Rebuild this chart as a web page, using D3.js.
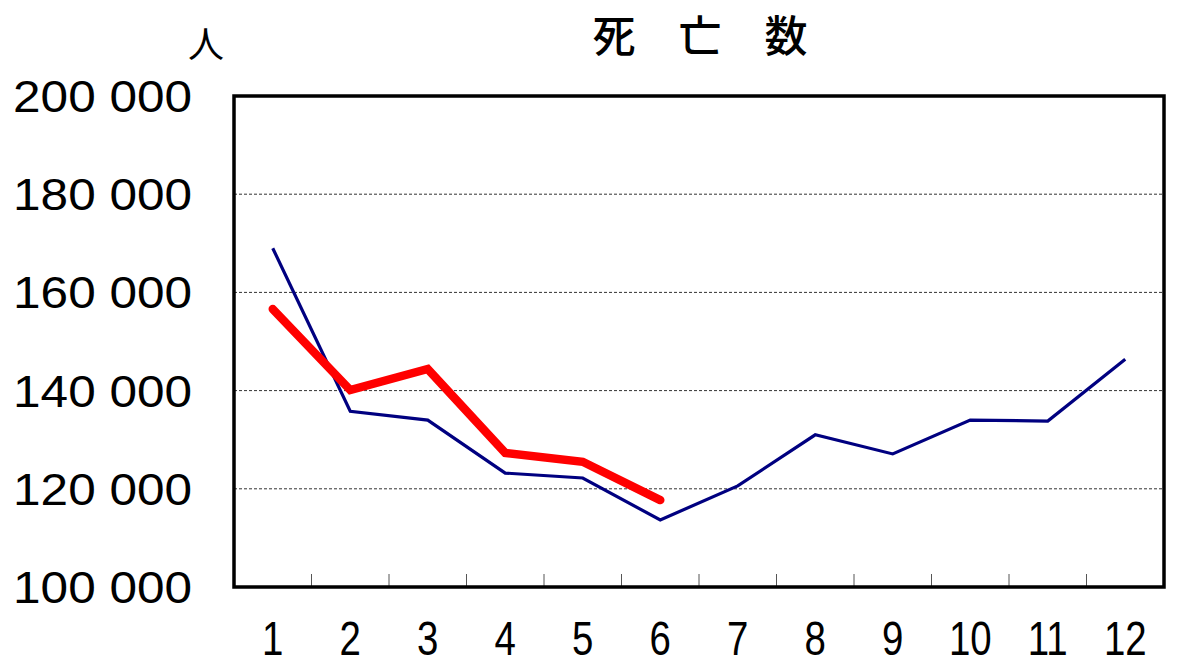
<!DOCTYPE html>
<html>
<head>
<meta charset="UTF-8">
<title>死亡数</title>
<script src="https://d3js.org/d3.v7.min.js"></script>
<style>
body { margin: 0; background: #fff; }
</style>
</head>
<body>
<figure class=chart style="margin:0"></figure>
<script type="text/javascript">

/* Data */
var months = ['1', '2', '3', '4', '5', '6', '7', '8', '9', '10', '11', '12'];
var prevYear = [169000, 135800, 134000, 123200, 122200, 113650, 120600, 131000, 127100, 134000, 133800, 146400];
var thisYear = [156600, 140100, 144400, 127300, 125500, 117700];
var yTicks = [100000, 120000, 140000, 160000, 180000, 200000];
var title = '死　亡　数';
var unit = '人';

/* Global variables */
var W = 1200, H = 666;
var plotL = 234, plotR = 1164, plotT = 96, plotB = 587;

var x = d3.scaleBand().domain(months).range([plotL, plotR]);
var y = d3.scaleLinear().domain([100000, 200000]).range([plotB, plotT]);

var svg = d3.select('figure').append('svg')
	.attr('width', W)
	.attr('height', H);

/* Gridlines */
svg.selectAll('line.grid')
	.data(yTicks.slice(1, -1))
	.enter().append('line')
	.attr('class', 'grid')
	.attr('x1', plotL).attr('x2', plotR)
	.attr('y1', function(d) { return y(d); })
	.attr('y2', function(d) { return y(d); })
	.style('stroke', '#333')
	.style('stroke-width', 1)
	.style('stroke-dasharray', '3,2');

/* Ticks between months */
svg.selectAll('line.tick')
	.data(months.slice(1))
	.enter().append('line')
	.attr('class', 'tick')
	.attr('x1', function(d) { return x(d); })
	.attr('x2', function(d) { return x(d); })
	.attr('y1', plotB).attr('y2', plotB - 13)
	.style('stroke', '#555')
	.style('stroke-width', 1);

/* Lines */
var line = d3.line()
	.x(function(d, i) { return x(months[i]) + x.bandwidth() / 2; })
	.y(function(d) { return y(d); });

svg.append('path')
	.datum(prevYear)
	.attr('d', line)
	.style('fill', 'none')
	.style('stroke', '#000080')
	.style('stroke-width', 3.2);

svg.append('path')
	.datum(thisYear)
	.attr('d', line)
	.style('fill', 'none')
	.style('stroke', '#ff0000')
	.style('stroke-width', 8.5)
	.style('stroke-linecap', 'round');

/* Frame */
svg.append('rect')
	.attr('x', plotL).attr('y', plotT)
	.attr('width', plotR - plotL).attr('height', plotB - plotT)
	.style('fill', 'none')
	.style('stroke', '#000')
	.style('stroke-width', 3.5);

/* Y labels */
svg.selectAll('text.ylab')
	.data(yTicks)
	.enter().append('text')
	.attr('class', 'ylab')
	.attr('transform', function(d) { return 'translate(192,' + (y(d) + 16) + ') scale(1.1,1)'; })
	.attr('text-anchor', 'end')
	.style('font-family', 'Liberation Sans, Arial, sans-serif')
	.style('font-size', '45px')
	.text(function(d) { return d3.format(',')(d).replace(',', ' '); });

/* X labels */
svg.selectAll('text.xlab')
	.data(months)
	.enter().append('text')
	.attr('class', 'xlab')
	.attr('transform', function(d) { return 'translate(' + (x(d) + x.bandwidth() / 2) + ',655) scale(0.8,1)'; })
	.attr('text-anchor', 'middle')
	.style('font-family', 'Liberation Sans, Arial, sans-serif')
	.style('font-size', '48px')
	.text(function(d) { return d; });

/* Title and unit */
svg.append('text')
	.attr('x', 700).attr('y', 52)
	.attr('text-anchor', 'middle')
	.style('font-family', 'Noto Sans CJK JP, sans-serif')
	.style('font-size', '43px')
	.style('font-weight', 500)
	.text(title);

svg.append('text')
	.attr('x', 206).attr('y', 58)
	.attr('text-anchor', 'middle')
	.style('font-family', 'Noto Sans CJK JP, sans-serif')
	.style('font-size', '36px')
	.text(unit);

</script>
</body>
</html>
